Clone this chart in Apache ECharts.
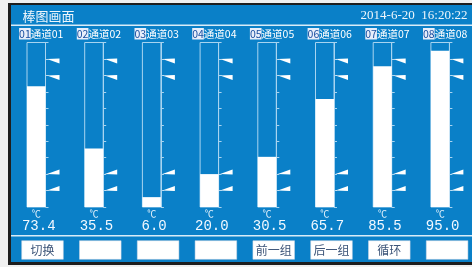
<!DOCTYPE html>
<html><head><meta charset="utf-8">
<script src="https://cdn.jsdelivr.net/npm/echarts@6/dist/echarts.min.js"></script>
<style>html,body{margin:0;padding:0;background:#f0f0f0;}#c{width:472px;height:267px;}</style>
</head><body><div id="c"></div>
<script>
// ---- data ----
const channelIds = ['01','02','03','04','05','06','07','08'];
const channelNames = ['通道01','通道02','通道03','通道04','通道05','通道06','通道07','通道08'];
const values = [73.4, 35.5, 6.0, 20.0, 30.5, 65.7, 85.5, 95.0];
const alarmHigh = [90, 80];
const alarmLow = [20, 10];
const unit = '℃';
const axisMin = 0, axisMax = 100, axisInterval = 10;
const buttonLabels = ['切换', '', '', '', '前一组', '后一组', '循环', ''];
const titleText = '棒图画面';
const dateText = '2014-6-20  16:20:22';

// ---- style/layout ----
const BLUE = '#0a80c8';
const LINE = '#a8d4f0';
const CJK = '"Noto Sans CJK SC", sans-serif';
const stepX = 57.7, startX = 27, barW = 18.5, gridTop = 42.5, gridH = 164.5;

const grids = [], xAxes = [], yAxes = [], series = [];
channelIds.forEach((id, i) => {
  grids.push({left: startX + stepX * i, top: gridTop, width: barW, height: gridH});
  xAxes.push({
    type: 'category', gridIndex: i, data: [id], position: 'bottom',
    axisLine: {show: false}, axisTick: {show: false},
    axisLabel: {
      margin: 2, interval: 0,
      formatter: () => '{u|' + unit + '}\n{v|' + values[i].toFixed(1) + '}',
      rich: {
        u: {fontSize: 9, color: '#e6f2fc', lineHeight: 10, fontFamily: CJK},
        v: {fontSize: 14, color: '#f2f8ff', lineHeight: 15, fontFamily: '"Liberation Mono", monospace', padding: [0, 0, 0, 5]}
      }
    }
  });
  xAxes.push({
    type: 'category', gridIndex: i, data: [id], position: 'top',
    axisLine: {show: false}, axisTick: {show: false},
    axisLabel: {
      margin: 3, interval: 0,
      formatter: () => '{n|' + id + '}{t|' + channelNames[i] + '}',
      rich: {
        n: {fontSize: 10.5, color: '#1a4fa0', backgroundColor: '#e8eefa', padding: [1, 0, 0, 0], fontFamily: CJK},
        t: {fontSize: 10.5, color: '#ffffff', fontFamily: CJK}
      },
      padding: [0, 0, 0, 10]
    }
  });
  yAxes.push({
    type: 'value', gridIndex: i, position: 'right', min: axisMin, max: axisMax, interval: axisInterval,
    axisLine: {show: true, lineStyle: {color: LINE, width: 1}},
    axisTick: {show: true, inside: false, length: 3, lineStyle: {color: LINE}},
    axisLabel: {show: false}, splitLine: {show: false}
  });
  series.push({
    type: 'bar', xAxisIndex: 2 * i, yAxisIndex: i, data: [values[i]], barWidth: '100%',
    itemStyle: {color: '#ffffff'},
    showBackground: true,
    backgroundStyle: {color: 'rgba(0,0,0,0)', borderColor: LINE, borderWidth: 1},
    silent: true
  });
  const alarmData = alarmHigh.map(v => [0, v, 1]).concat(alarmLow.map(v => [0, v, -1]));
  series.push({
    type: 'custom', xAxisIndex: 2 * i, yAxisIndex: i, clip: false, silent: true, z: 5,
    data: alarmData,
    renderItem: (params, api) => {
      const p = api.coord([api.value(0), api.value(1)]);
      const w = api.size([1, 0])[0];
      const xa = p[0] + w / 2 + 1.5, xb = xa + 12.5;
      const d = api.value(2);
      const y = p[1];
      return {
        type: 'polygon',
        shape: {points: [[xa, y], [xb, y - 0.5 * d], [xb, y + 4.5 * d]]},
        style: {fill: '#ffffff'}
      };
    }
  });
});

const graphic = [
  {type: 'rect', shape: {x: 8, y: 3, width: 470, height: 262}, style: {fill: '#1e1e1e'}, z: -20},
  {type: 'rect', shape: {x: 11, y: 5, width: 470, height: 257}, style: {fill: BLUE}, z: -19},
  {type: 'rect', shape: {x: 11, y: 24.5, width: 470, height: 1.5}, style: {fill: '#d8ecf8'}, z: -18},
  {type: 'rect', shape: {x: 11, y: 235, width: 470, height: 1.5}, style: {fill: '#d8ecf8'}, z: -18},
  {type: 'text', x: 22.5, y: 16, style: {text: titleText, fill: '#eef6fc', font: '13px ' + CJK, verticalAlign: 'middle'}},
  {type: 'text', x: 467.5, y: 16, style: {text: dateText, fill: '#eef6fc', font: '13px "Liberation Serif", serif', align: 'right', verticalAlign: 'middle'}}
];
buttonLabels.forEach((b, i) => {
  const bx = 21.7 + 57.8 * i;
  graphic.push({type: 'rect', shape: {x: bx, y: 240.7, width: 41.6, height: 18.6}, style: {fill: '#ffffff', stroke: '#d0d8e4', lineWidth: 0.5}});
  graphic.push({type: 'text', x: bx + 20.8, y: 250.2, style: {text: b, fill: '#3c5478', font: '12px ' + CJK, align: 'center', verticalAlign: 'middle'}, z: 2});
});

const chart = echarts.init(document.getElementById('c'));
chart.setOption({
  backgroundColor: '#f0f0f0',
  animation: false,
  grid: grids, xAxis: xAxes, yAxis: yAxes, series: series,
  graphic: graphic
});
</script></body></html>
